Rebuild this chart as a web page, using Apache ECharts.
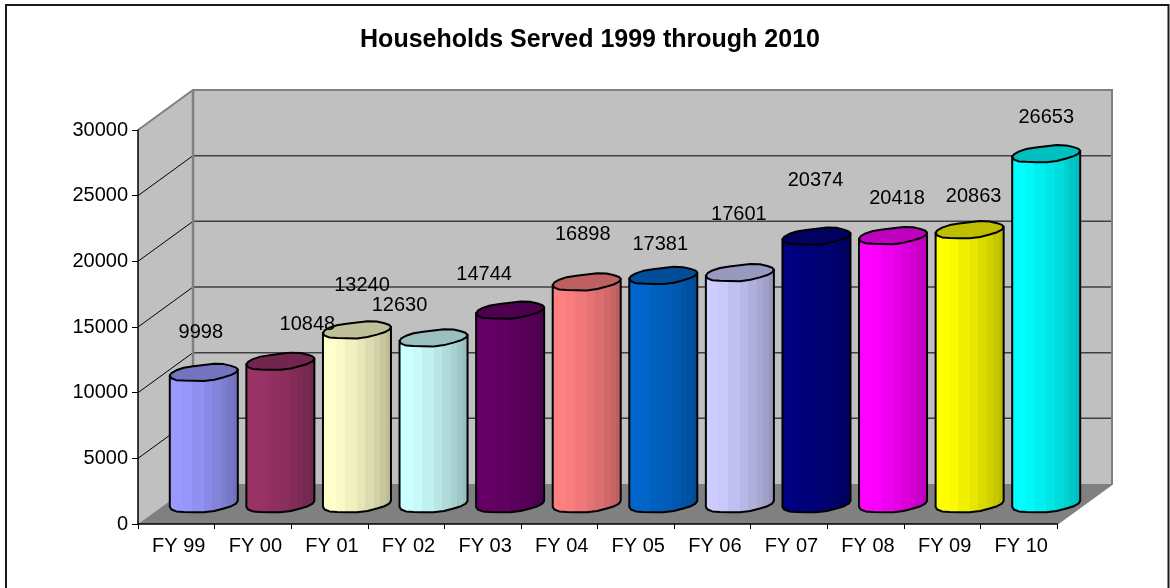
<!DOCTYPE html>
<html>
<head>
<meta charset="utf-8">
<style>html,body{margin:0;padding:0;background:#fff}#c{width:1170px;height:588px}</style>
<script src="https://cdn.jsdelivr.net/npm/echarts@6/dist/echarts.min.js"></script>
</head>
<body>
<div id="c"></div>
<script>
const titleText = 'Households Served 1999 through 2010';
const categories = ['FY 99','FY 00','FY 01','FY 02','FY 03','FY 04','FY 05','FY 06','FY 07','FY 08','FY 09','FY 10'];
const households = [9998,10848,13240,12630,14744,16898,17381,17601,20374,20418,20863,26653];
const barColors = [[153,153,255],[153,51,102],[255,255,204],[204,255,255],[102,0,102],[255,128,128],[0,102,204],[204,204,255],[0,0,128],[255,0,255],[255,255,0],[0,255,255]];
// the source's data labels sit at irregular offsets from the bar tops: [dx, dy]
const labelNudges = [[-3,-40],[27,-37],[5,-45],[-34,-33],[-26,-36],[-4,-48],[-3,-31],[-1,-58],[-1,-56],[4,-37],[4,-34],[0,-36]];
const yTicks = [0,5000,10000,15000,20000,25000,30000];

const DX = 55, DY = -40;            // oblique depth of the chart box
const RX = 34, RY = 8, TILT = 3;    // cylinder cap
const FONT = '"Liberation Sans", Arial, sans-serif';
const facets = [[0,.2,1],[.2,.33,.98],[.33,.5,.94],[.5,.62,.9],[.62,.75,.86],[.75,.83,.82],[.83,.92,.78],[.92,1,.74]];

function shade(c, k){ return 'rgb(' + c.map(v => Math.round(v*k)).join(',') + ')'; }
function capPoint(cx, cy, t){
  const w = 1 + 0.06*Math.sin(5*t + 0.8);
  return [cx + RX*Math.cos(t), cy + w*(RY*Math.sin(t) - TILT*Math.cos(t))];
}
function arc(cx, cy, from, to, n){
  const p = [];
  for (let i = 0; i <= n; i++) p.push(capPoint(cx, cy, from + (to-from)*i/n));
  return p;
}

function renderWalls(params, api){
  const cs = params.coordSys, L = cs.x, R = cs.x + cs.width;
  const yOf = v => api.coord([0, v])[1];
  const B = yOf(0), T = yOf(yTicks[yTicks.length-1]);
  const kids = [
    {type:'polygon', shape:{points:[[L,B],[L+DX,B+DY],[L+DX,T+DY],[L,T]]}, style:{fill:'#c0c0c0',stroke:null}},
    {type:'polygon', shape:{points:[[L+DX,B+DY],[R+DX,B+DY],[R+DX,T+DY],[L+DX,T+DY]]}, style:{fill:'#c0c0c0',stroke:null}},
    {type:'polygon', shape:{points:[[L,B],[R,B],[R+DX,B+DY],[L+DX,B+DY]]}, style:{fill:'#808080',stroke:null}}
  ];
  yTicks.slice(1,-1).forEach(v => {
    const y = yOf(v);
    kids.push({type:'line', shape:{x1:L,y1:y,x2:L+DX,y2:y+DY}, style:{stroke:'#000',lineWidth:1}});
    kids.push({type:'line', shape:{x1:L+DX,y1:y+DY,x2:R+DX,y2:y+DY}, style:{stroke:'#404040',lineWidth:1.5}});
  });
  kids.push({type:'polyline', shape:{points:[[L,T],[L+DX,T+DY],[R+DX,T+DY],[R+DX,B+DY],[R,B]]}, style:{fill:null,stroke:'#808080',lineWidth:2}});
  kids.push({type:'line', shape:{x1:L+DX,y1:T+DY,x2:L+DX,y2:B+DY}, style:{stroke:'#808080',lineWidth:2.5}});
  return {type:'group', children:kids};
}

function renderBar(params, api){
  const i = params.dataIndex, c = barColors[i];
  const top = api.coord([api.value(0), api.value(1)]);
  const base = api.coord([api.value(0), 0]);
  const cx = top[0] + DX/2, yt = top[1] + DY/2, yb = base[1] + DY/2;
  const stops = [];
  facets.forEach(f => {
    stops.push({offset:f[0], color:shade(c,f[2])});
    stops.push({offset:f[1], color:shade(c,f[2])});
  });
  const bottom = arc(cx, yb, 0, Math.PI, 10);
  const body = [capPoint(cx, yt, 0)].concat(bottom, [capPoint(cx, yt, Math.PI)]);
  return {type:'group', children:[
    {type:'polygon', shape:{points:body},
     style:{fill:{type:'linear',x:0,y:0,x2:1,y2:0,colorStops:stops},stroke:'#000',lineWidth:2,lineJoin:'round'}},
    {type:'polygon', shape:{points:arc(cx, yt, 0, 2*Math.PI, 20)},
     style:{fill:shade(c,.75),stroke:'#000',lineWidth:2,lineJoin:'round'}}
  ]};
}

function renderLabel(params, api){
  const i = params.dataIndex, n = labelNudges[i];
  const top = api.coord([api.value(0), api.value(1)]);
  return {type:'text', x: top[0] + DX/2 + n[0], y: top[1] + DY/2 + n[1],
    style:{text:String(api.value(1)), fill:'#000', font:'20px '+FONT, align:'center', verticalAlign:'middle'}};
}

const chart = echarts.init(document.getElementById('c'), null, {renderer:'canvas'});
chart.setOption({
  animation:false,
  backgroundColor:'#fff',
  title:{text:titleText, left:585, top:23, textAlign:'center',
    textStyle:{fontFamily:FONT,fontWeight:'bold',fontSize:25,color:'#000'}},
  grid:{left:138, top:130, width:919, height:394, containLabel:false},
  xAxis:{type:'category', data:categories, z:5,
    axisLine:{lineStyle:{color:'#000',width:1.5}},
    axisTick:{show:true,length:5,alignWithLabel:false,lineStyle:{color:'#000'}},
    axisLabel:{fontFamily:FONT,fontSize:20,color:'#000',margin:12,interval:0,padding:[0,0,0,5]},
    splitLine:{show:false}},
  yAxis:{type:'value', min:yTicks[0], max:yTicks[yTicks.length-1], interval:5000, z:5,
    axisLine:{show:true,lineStyle:{color:'#000',width:1.5}},
    axisTick:{show:true,length:6,lineStyle:{color:'#000'}},
    axisLabel:{fontFamily:FONT,fontSize:20,color:'#000',margin:10,formatter:v=>String(v)},
    splitLine:{show:false}},
  graphic:[{type:'polyline', silent:true, z:0,
    shape:{points:[[6,600],[6,5],[1168.5,5],[1168.5,600]]},
    style:{fill:null,stroke:'#1a1a1a',lineWidth:2}}],
  series:[
    {type:'custom', name:'walls', z:1, clip:false, silent:true, renderItem:renderWalls, data:[[0,0]]},
    {type:'custom', name:'Households', z:2, clip:false, silent:true, renderItem:renderBar,
     encode:{x:0,y:1}, data:categories.map((c,i)=>[i,households[i]])},
    {type:'custom', name:'labels', z:6, clip:false, silent:true, renderItem:renderLabel,
     encode:{x:0,y:1}, data:categories.map((c,i)=>[i,households[i]])}
  ]
});
</script>
</body>
</html>
